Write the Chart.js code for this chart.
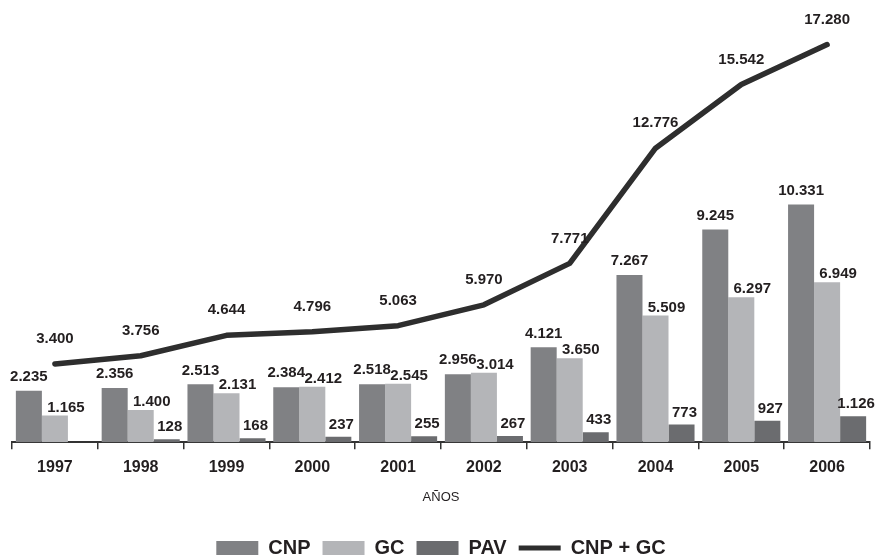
<!DOCTYPE html>
<html>
<head>
<meta charset="utf-8">
<script src="https://cdn.jsdelivr.net/npm/chart.js@4/dist/chart.umd.min.js"></script>
<style>
html,body{margin:0;padding:0;background:#fff;overflow:hidden;}
#wrap{width:880px;height:555px;position:relative;}
</style>
</head>
<body>
<div id="wrap"><canvas id="c" width="880" height="555"></canvas></div>
<script>
const years = ['1997','1998','1999','2000','2001','2002','2003','2004','2005','2006'];
const cnp = [2235, 2356, 2513, 2384, 2518, 2956, 4121, 7267, 9245, 10331];
const gc = [1165, 1400, 2131, 2412, 2545, 3014, 3650, 5509, 6297, 6949];
const pav = [null, 128, 168, 237, 255, 267, 433, 773, 927, 1126];
const total = [3400, 3756, 4644, 4796, 5063, 5970, 7771, 12776, 15542, 17280];

const FONT = '"Liberation Sans", Arial, sans-serif';
const TXT = '#231f20';

function fmt(v){ return v.toString().replace(/\B(?=(\d{3})+(?!\d))/g, '.'); }

const labelPlugin = {
  id: 'valueLabels',
  afterDatasetsDraw(chart){
    const ctx = chart.ctx;
    ctx.save();
    ctx.font = 'bold 15px ' + FONT;
    ctx.fillStyle = TXT;
    ctx.textAlign = 'center';
    ctx.textBaseline = 'middle';
    chart.data.datasets.forEach((ds, di) => {
      const meta = chart.getDatasetMeta(di);
      const lo = ds.labelOffset;
      meta.data.forEach((el, i) => {
        const v = ds.data[i];
        if (v === null || v === undefined) return;
        ctx.fillText(fmt(v), el.x + lo.dx, el.y - lo.dy);
      });
    });
    ctx.restore();
  }
};

new Chart(document.getElementById('c'), {
  type: 'bar',
  data: {
    labels: years,
    datasets: [
      { label: 'CNP', data: cnp, backgroundColor: '#808184', order: 1, labelOffset: {dx: 0, dy: 14} },
      { label: 'GC', data: gc, backgroundColor: '#b4b5b8', order: 1, labelOffset: {dx: 11, dy: 8} },
      { label: 'PAV', data: pav, backgroundColor: '#6b6c6f', order: 1, labelOffset: {dx: 3, dy: 12} },
      { label: 'CNP + GC', data: total, type: 'line', borderColor: '#2e2e2e', backgroundColor: '#2e2e2e',
        borderWidth: 5.5, tension: 0, pointRadius: 0, borderCapStyle: 'round', borderJoinStyle: 'round',
        order: 0, labelOffset: {dx: 0, dy: 25} }
    ]
  },
  options: {
    responsive: false,
    animation: false,
    devicePixelRatio: 1,
    layout: { padding: { left: 12, right: 10, top: 28, bottom: -13 } },
    datasets: { bar: { categoryPercentage: 0.91, barPercentage: 1.0 } },
    scales: {
      x: {
        grid: { display: true, offset: true, drawOnChartArea: false, drawTicks: true, tickLength: 7, color: '#333', lineWidth: 1.5 },
        border: { display: true, color: '#333', width: 2 },
        ticks: { color: TXT, font: { family: FONT, size: 16, weight: 'bold' }, padding: 9 },
        title: { display: true, text: 'AÑOS', color: TXT, font: { family: FONT, size: 13 }, padding: { top: 3, bottom: 21 } }
      },
      y: { display: false, min: 0, max: 18000 }
    },
    plugins: {
      tooltip: { enabled: false },
      legend: {
        position: 'bottom',
        labels: {
          usePointStyle: true,
          pointStyleWidth: 42,
          boxHeight: 14,
          padding: 12,
          color: TXT,
          font: { family: FONT, size: 20, weight: 'bold' },
          generateLabels(chart){
            return chart.data.datasets.map((ds, i) => {
              const isLine = ds.type === 'line';
              return {
                text: ds.label,
                fillStyle: isLine ? ds.borderColor : ds.backgroundColor,
                strokeStyle: isLine ? ds.borderColor : ds.backgroundColor,
                lineWidth: isLine ? 5 : 0,
                pointStyle: isLine ? 'line' : 'rect',
                fontColor: TXT,
                hidden: false,
                datasetIndex: i
              };
            });
          }
        }
      }
    }
  },
  plugins: [labelPlugin]
});
</script>
</body>
</html>
